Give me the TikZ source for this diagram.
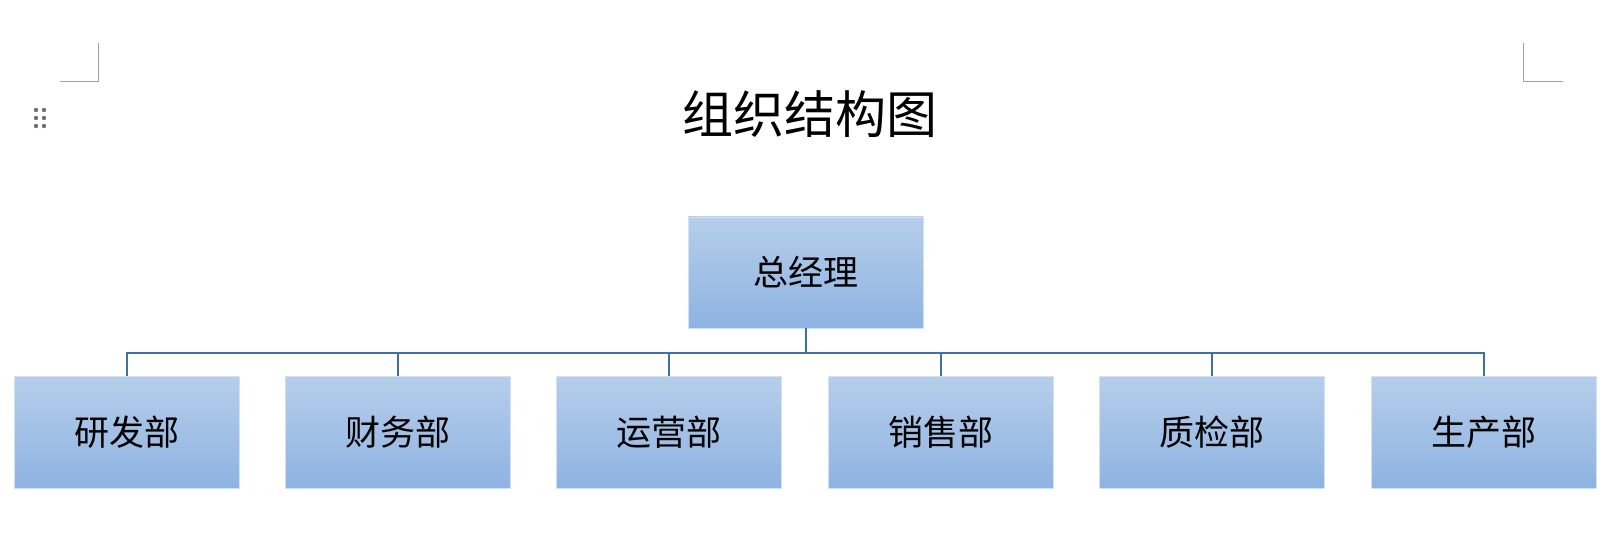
\documentclass[tikz,border=0pt]{standalone}
\usepackage{fontspec}
\newfontfamily\cjk{Noto Sans CJK SC}
\usetikzlibrary{positioning}
\definecolor{boxtop}{HTML}{B6CEEA}
\definecolor{boxbot}{HTML}{8EB3E2}
\definecolor{linkc}{HTML}{41709E}
\definecolor{markc}{HTML}{A0A0A0}
\definecolor{dotc}{HTML}{707070}
\tikzset{
  orgbox/.style={rectangle, minimum width=225pt, minimum height=112pt, inner sep=0pt,
    top color=boxtop, bottom color=boxbot, draw=boxtop!60!white, line width=0.5pt,
    font=\cjk\fontsize{35}{40}\selectfont},
  link/.style={draw=linkc, line width=2pt},
  cornermark/.style={draw=markc, line width=1pt},
}
\begin{document}
\begin{tikzpicture}[x=1pt,y=-1pt]
\useasboundingbox[fill=white] (0,0) rectangle (1611,534);
% page corner marks
\draw[cornermark] (60,82) -- (98,82) -- (98,43);
\draw[cornermark] (1523,43) -- (1523,82) -- (1563,82);
% handle dots
\foreach \xx in {36,44}{\foreach \yy in {110,118,126}{\fill[dotc] (\xx,\yy) circle (2.2pt);}}
% title
\node[font=\cjk\fontsize{51}{58}\selectfont] (title) at (810,114) {组织结构图};
% boxes
\node[orgbox, minimum width=235pt, minimum height=111pt] (top) at (805.5,272.5) {总经理};
\node[orgbox] (b1) at (126.5,432) {研发部};
\node[orgbox] (b2) at (397.8,432) {财务部};
\node[orgbox] (b3) at (669.1,432) {运营部};
\node[orgbox] (b4) at (940.5,432) {销售部};
\node[orgbox] (b5) at (1211.9,432) {质检部};
\node[orgbox] (b6) at (1483.5,432) {生产部};
% connectors
\foreach \b in {b1,b2,b3,b4,b5,b6}{
  \draw[link] (top.south) -- ++(0,25) -| (\b.north);
}
\end{tikzpicture}
\end{document}
